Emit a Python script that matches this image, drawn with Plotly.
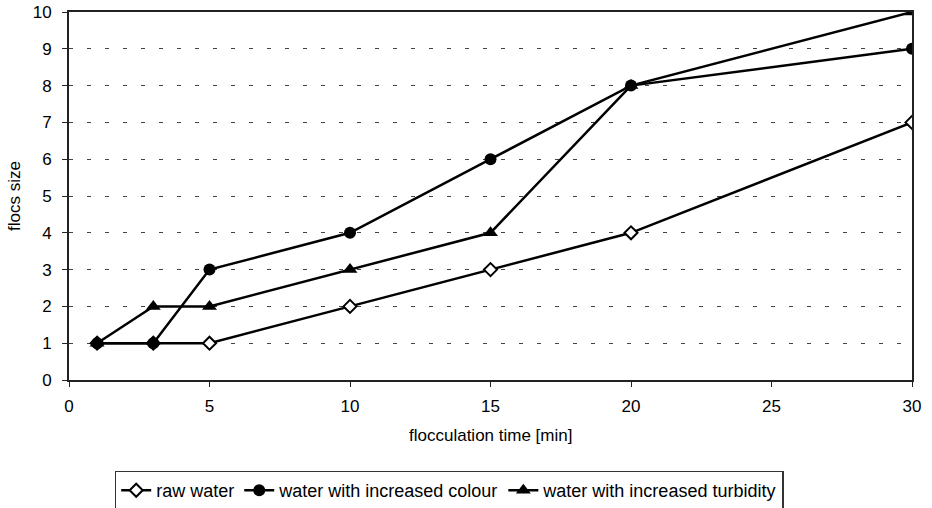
import plotly.graph_objects as go

time_min = [1, 3, 5, 10, 15, 20, 30]
raw_water = [1, 1, 1, 2, 3, 4, 7]
increased_colour = [1, 1, 3, 4, 6, 8, 9]
increased_turbidity = [1, 2, 2, 3, 4, 8, 10]

font = "Liberation Sans, Arial, sans-serif"
fig = go.Figure()
fig.add_trace(go.Scatter(x=time_min, y=raw_water, mode="lines+markers", name="raw water",
                         line=dict(color="black", width=2.5),
                         marker=dict(symbol="diamond", size=10, color="white",
                                     line=dict(color="black", width=2))))
fig.add_trace(go.Scatter(x=time_min, y=increased_colour, mode="lines+markers",
                         name="water with increased colour",
                         line=dict(color="black", width=2.5),
                         marker=dict(symbol="circle", size=12, color="black")))
fig.add_trace(go.Scatter(x=time_min, y=increased_turbidity, mode="lines+markers",
                         name="water with increased turbidity",
                         line=dict(color="black", width=2.5),
                         marker=dict(symbol="triangle-up", size=13, color="black")))

fig.update_layout(
    width=932, height=508,
    margin=dict(l=69, r=20, t=12, b=128, autoexpand=False),
    paper_bgcolor="white", plot_bgcolor="white",
    font=dict(family=font, size=17, color="black"),
    showlegend=True,
    legend=dict(orientation="h", x=0.451, xanchor="center", y=-0.246, yanchor="top",
                bordercolor="#333", borderwidth=1.5, font=dict(size=18),
                itemwidth=30, tracegroupgap=0),
    xaxis=dict(range=[0, 30], tickvals=[0, 5, 10, 15, 20, 25, 30],
               showgrid=False, zeroline=False, showline=True, linecolor="#222",
               linewidth=2, mirror=True, ticks="outside", ticklen=5,
               tickcolor="#222", tickfont=dict(size=17), automargin=False,
               ticklabelstandoff=5),
    yaxis=dict(range=[0, 10], dtick=1, showgrid=True, gridcolor="#444",
               griddash="4px,14px", gridwidth=1, zeroline=False, showline=True,
               linecolor="#222", linewidth=2, mirror=True, ticks="outside",
               ticklen=5, tickcolor="#222", tickfont=dict(size=17), automargin=False,
               ticklabelstandoff=7),
    annotations=[
        dict(text="flocculation time [min]", xref="paper", yref="paper",
             x=0.5, y=-0.152, xanchor="center", yanchor="middle",
             showarrow=False, font=dict(size=17)),
        dict(text="flocs size", xref="paper", yref="paper",
             x=-0.0652, y=0.5, xanchor="center", yanchor="middle",
             textangle=-90, showarrow=False, font=dict(size=17)),
    ],
)
fig.write_html("out.html", config={"displayModeBar": False},
               post_script="document.body.style.margin='0';")
